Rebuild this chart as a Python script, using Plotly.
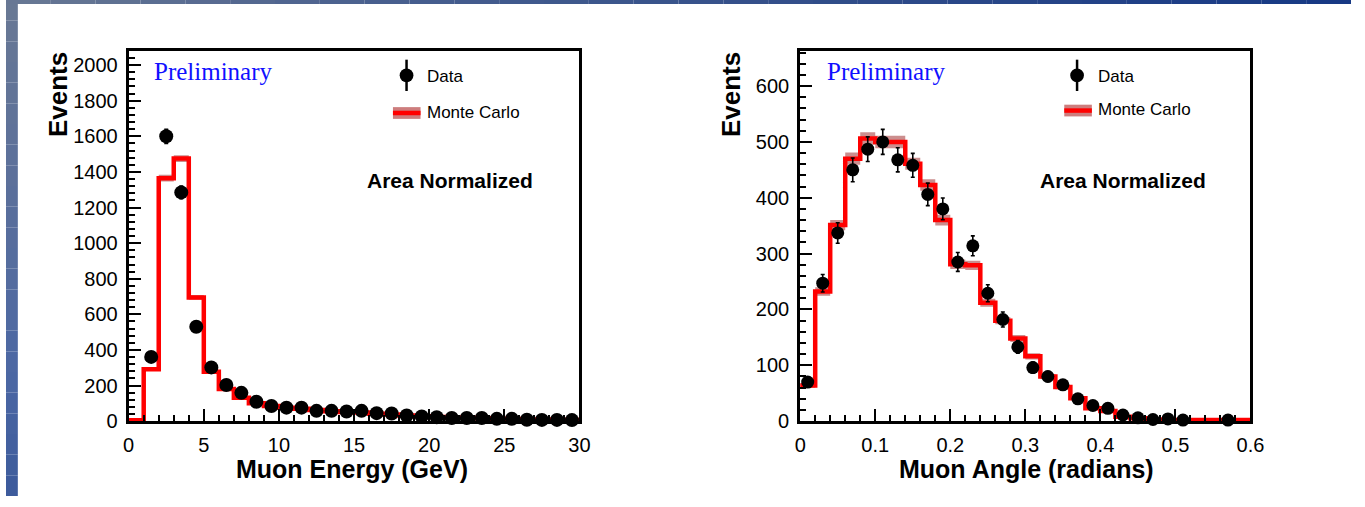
import numpy as np
import plotly.graph_objects as go

W, H = 1365, 507

# ---------------- data: left panel (muon energy) ----------------
energy_edges = [0, 1, 2, 3, 4, 5, 6, 7, 8, 9, 10, 11, 12, 13, 14, 15, 16, 17, 18, 19, 20,
                21, 22, 23, 24, 25, 26, 27, 28, 29, 30]
energy_mc = [5, 291, 1365, 1475, 695, 278, 180, 131, 100, 85, 75, 70, 62, 56, 52, 48, 42, 38,
             32, 28, 24, 21, 19, 16, 14, 12, 10, 9, 8, 7]
energy_data_x = [1.5, 2.5, 3.5, 4.5, 5.5, 6.5, 7.5, 8.5, 9.5, 10.5, 11.5, 12.5, 13.5, 14.5,
                 15.5, 16.5, 17.5, 18.5, 19.5, 20.5, 21.5, 22.5, 23.5, 24.5, 25.5, 26.5,
                 27.5, 28.5, 29.5]
energy_data = [361, 1600, 1285, 530, 302, 203, 159, 109, 85, 76, 76, 58, 58, 54, 58, 45, 43,
               32, 26, 22, 18, 18, 18, 13, 13, 8, 7, 7, 6]

# ---------------- data: right panel (muon angle) ----------------
angle_edges = [0.0, 0.02, 0.04, 0.06, 0.08, 0.10, 0.12, 0.14, 0.16, 0.18, 0.20, 0.22, 0.24,
               0.26, 0.28, 0.30, 0.32, 0.34, 0.36, 0.38, 0.40, 0.42, 0.44, 0.46, 0.48, 0.50,
               0.52, 0.54, 0.56, 0.58, 0.60]
angle_mc = [64, 232, 351, 470, 506, 500, 500, 461, 423, 360, 281, 279, 212, 180, 148, 116, 80,
            61, 41, 23, 18, 8, 5, 3, 2, 2, 2, 2, 2, 2]
angle_data_x = [0.01, 0.03, 0.05, 0.07, 0.09, 0.11, 0.13, 0.15, 0.17, 0.19, 0.21, 0.23, 0.25,
                0.27, 0.29, 0.31, 0.33, 0.35, 0.37, 0.39, 0.41, 0.43, 0.45, 0.47, 0.49, 0.51,
                0.57]
angle_data = [70, 247, 337, 450, 487, 500, 468, 458, 406, 380, 285, 314, 229, 182, 133, 96, 80,
              65, 40, 28, 23, 11, 6, 3, 4, 2, 2]

energy_yticks = [0, 200, 400, 600, 800, 1000, 1200, 1400, 1600, 1800, 2000]
energy_xticks = [0, 5, 10, 15, 20, 25, 30]
angle_yticks = [0, 100, 200, 300, 400, 500, 600]
angle_xticks = [0, 0.1, 0.2, 0.3, 0.4, 0.5, 0.6]
angle_xticklabels = ["0", "0.1", "0.2", "0.3", "0.4", "0.5", "0.6"]

FONT = "Liberation Sans, Arial, Helvetica, sans-serif"
SERIF = "Liberation Serif, Times New Roman, serif"
RED = "#ff0000"
BAND = "rgba(160,50,50,0.55)"


def px(x):
    return x / W


def py(y):
    return 1 - y / H


fig = go.Figure()


def add_panel(edges, mc, dx, dy, xa, ya, msize):
    mc = np.array(mc, dtype=float)
    err = 0.5 * np.sqrt(mc)
    ystep = list(mc) + [mc[-1]]
    lo = list(mc - err) + [mc[-1] - err[-1]]
    hi = list(mc + err) + [mc[-1] + err[-1]]
    fig.add_trace(go.Scatter(x=edges, y=lo, mode="lines", line=dict(width=0, shape="hv"),
                             xaxis=xa, yaxis=ya, showlegend=False, hoverinfo="skip"))
    fig.add_trace(go.Scatter(x=edges, y=hi, mode="lines", line=dict(width=0, shape="hv"),
                             fill="tonexty", fillcolor=BAND,
                             xaxis=xa, yaxis=ya, showlegend=False, hoverinfo="skip"))
    fig.add_trace(go.Scatter(x=edges, y=ystep, mode="lines",
                             line=dict(color=RED, width=4.5, shape="hv"),
                             xaxis=xa, yaxis=ya, showlegend=False, name="Monte Carlo"))
    d = np.array(dy, dtype=float)
    fig.add_trace(go.Scatter(x=dx, y=dy, mode="markers",
                             marker=dict(color="black", size=msize),
                             error_y=dict(type="data", array=np.sqrt(d), color="black",
                                          thickness=1.6, width=2),
                             cliponaxis=False,
                             xaxis=xa, yaxis=ya, showlegend=False, name="Data"))


add_panel(energy_edges, energy_mc, energy_data_x, energy_data, "x", "y", 14)
add_panel(angle_edges, angle_mc, angle_data_x, angle_data, "x2", "y2", 13)

ydom = [py(430.5), py(52)]
axis_common = dict(
    showgrid=False, zeroline=False, showline=True, linecolor="black", linewidth=3,
    mirror=True, ticks="inside", ticklen=12, tickwidth=1.8, tickcolor="black",
    tickfont=dict(family=FONT, size=20, color="black"),
)

fig.update_layout(
    width=W, height=H,
    margin=dict(l=0, r=0, t=0, b=0),
    paper_bgcolor="white", plot_bgcolor="white",
    showlegend=False,
    xaxis=dict(domain=[px(124.5), px(582)], range=[0, 30], anchor="y",
               tickvals=energy_xticks, ticklabelstandoff=4,
               minor=dict(dtick=1, ticklen=6, ticks="inside", tickcolor="black", tickwidth=1.5),
               **axis_common),
    yaxis=dict(domain=ydom, range=[0, 2080], anchor="x",
               tickvals=energy_yticks, ticklabelstandoff=4,
               minor=dict(dtick=40, ticklen=6, ticks="inside", tickcolor="black", tickwidth=1.5),
               **axis_common),
    xaxis2=dict(domain=[px(806), px(1263)], range=[0, 0.6], anchor="y2",
                tickvals=angle_xticks, ticktext=angle_xticklabels, ticklabelstandoff=4,
                minor=dict(dtick=0.02, ticklen=6, ticks="inside", tickcolor="black", tickwidth=1.5),
                **axis_common),
    yaxis2=dict(domain=ydom, range=[0, 663], anchor="x2",
                tickvals=angle_yticks, ticklabelstandoff=4,
                minor=dict(dtick=20, ticklen=6, ticks="inside", tickcolor="black", tickwidth=1.5),
                **axis_common),
)

shapes = []


def lerp(c1, c2, t):
    return tuple(int(round(a + (b - a) * t)) for a, b in zip(c1, c2))


# blue frame: left strip (vertical gradient) and top strip (horizontal gradient)
left_stops = [(0.0, (105, 120, 148)), (0.45, (88, 110, 156)), (0.75, (76, 104, 164)),
              (1.0, (60, 90, 155))]
n = 24
for i in range(n):
    t = (i + 0.5) / n
    for (t0, c0), (t1, c1) in zip(left_stops[:-1], left_stops[1:]):
        if t0 <= t <= t1:
            c = lerp(c0, c1, (t - t0) / (t1 - t0))
            break
    shapes.append(dict(type="rect", xref="paper", yref="paper",
                       x0=0, x1=px(12), y0=py(H * (i + 1) / n), y1=py(H * i / n),
                       fillcolor="rgb(%d,%d,%d)" % c, line=dict(width=0), layer="above"))
top_stops = [(0.0, (105, 120, 148)), (0.3, (70, 94, 142)), (1.0, (22, 56, 132))]
n = 30
for i in range(n):
    t = (i + 0.5) / n
    for (t0, c0), (t1, c1) in zip(top_stops[:-1], top_stops[1:]):
        if t0 <= t <= t1:
            c = lerp(c0, c1, (t - t0) / (t1 - t0))
            break
    shapes.append(dict(type="rect", xref="paper", yref="paper",
                       x0=px(W * i / n), x1=px(W * (i + 1) / n), y0=py(4), y1=1,
                       fillcolor="rgb(%d,%d,%d)" % c, line=dict(width=0), layer="above"))

annotations = []


def legend_block(mx, my, boxx0, boxy, tx):
    # Data symbol: dot with vertical error bar
    shapes.append(dict(type="line", xref="paper", yref="paper",
                       x0=px(mx), x1=px(mx), y0=py(my - 16), y1=py(my + 16),
                       line=dict(color="black", width=2.5)))
    shapes.append(dict(type="circle", xref="paper", yref="paper",
                       x0=px(mx - 7), x1=px(mx + 7), y0=py(my + 7), y1=py(my - 7),
                       fillcolor="black", line=dict(width=0)))
    annotations.append(dict(text="Data", xref="paper", yref="paper", x=px(tx), y=py(my + 1),
                            xanchor="left", yanchor="middle", showarrow=False,
                            font=dict(family=FONT, size=17, color="black")))
    # Monte Carlo symbol: band box with red line
    shapes.append(dict(type="rect", xref="paper", yref="paper",
                       x0=px(boxx0), x1=px(boxx0 + 28), y0=py(boxy + 6), y1=py(boxy - 6),
                       fillcolor="rgb(205,125,125)", line=dict(width=0)))
    shapes.append(dict(type="line", xref="paper", yref="paper",
                       x0=px(boxx0), x1=px(boxx0 + 28), y0=py(boxy), y1=py(boxy),
                       line=dict(color=RED, width=4.5)))
    annotations.append(dict(text="Monte Carlo", xref="paper", yref="paper", x=px(tx),
                            y=py(boxy - 1), xanchor="left", yanchor="middle", showarrow=False,
                            font=dict(family=FONT, size=17, color="black")))


legend_block(406.5, 77, 392.7, 115.5, 425)
legend_block(1087, 77, 1074, 113, 1106)

for xc, pre_x in ((450.8, 150), (1134, 833)):
    annotations.append(dict(text="<b>Area Normalized</b>", xref="paper", yref="paper",
                            x=px(xc), y=py(185), xanchor="center", yanchor="middle",
                            showarrow=False, font=dict(family=FONT, size=21, color="black")))
    annotations.append(dict(text="Preliminary", xref="paper", yref="paper",
                            x=px(pre_x - 2), y=py(73), xanchor="left", yanchor="middle",
                            showarrow=False, font=dict(family=SERIF, size=25, color="#1010ff")))

for xc in (53, 736):
    annotations.append(dict(text="<b>Events</b>", xref="paper", yref="paper",
                            x=px(xc), y=py(97), xanchor="center", yanchor="middle",
                            textangle=-90, showarrow=False,
                            font=dict(family=FONT, size=26, color="black")))

annotations.append(dict(text="<b>Muon Energy (GeV)</b>", xref="paper", yref="paper",
                        x=px(351), y=py(479), xanchor="center", yanchor="middle",
                        showarrow=False, font=dict(family=FONT, size=25, color="black")))
annotations.append(dict(text="<b>Muon Angle (radians)</b>", xref="paper", yref="paper",
                        x=px(1035.5), y=py(479), xanchor="center", yanchor="middle",
                        showarrow=False, font=dict(family=FONT, size=25, color="black")))

fig.update_layout(shapes=shapes, annotations=annotations)

fig.write_html("out.html")
